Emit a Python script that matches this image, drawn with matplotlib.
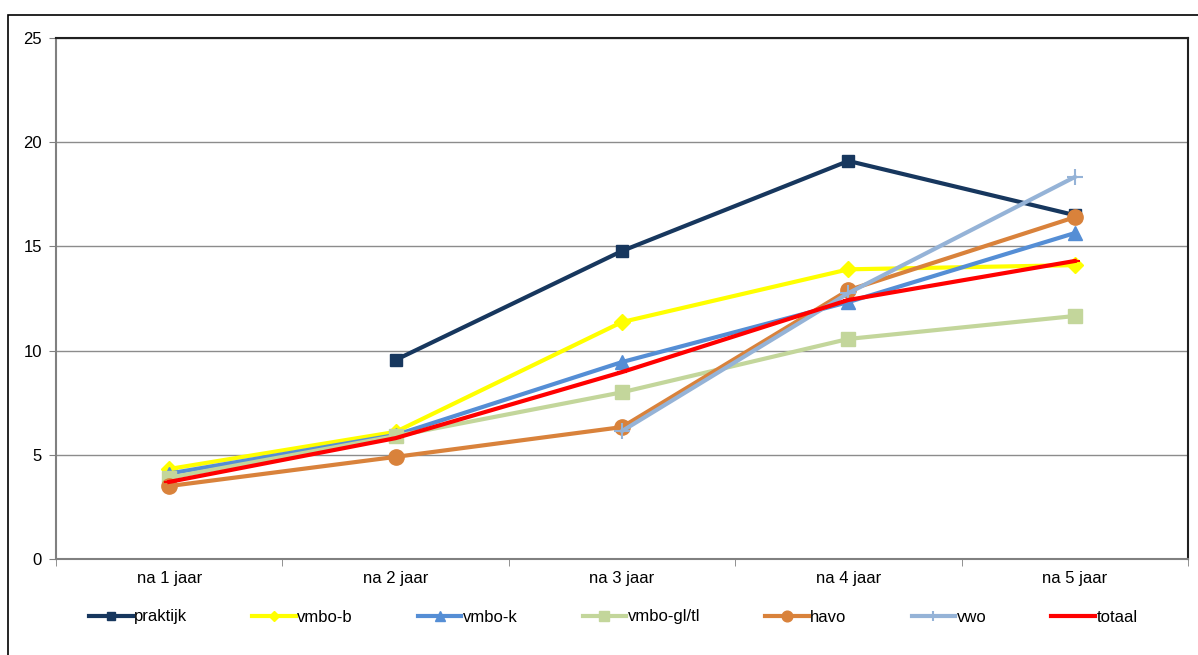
# line chart: share per schooltype after n years

import numpy as np
import matplotlib.pyplot as plt
from matplotlib.patches import Rectangle

plt.rcParams['font.family'] = ['Liberation Sans', 'DejaVu Sans']

# data
categories = ['na 1 jaar', 'na 2 jaar', 'na 3 jaar', 'na 4 jaar', 'na 5 jaar']
praktijk = [np.nan, 9.55, 14.78, 19.1, 16.5]
vmbo_b = [4.32, 6.1, 11.37, 13.9, 14.1]
vmbo_k = [4.1, 5.95, 9.45, 12.33, 15.64]
vmbo_gltl = [3.9, 5.9, 8.0, 10.56, 11.66]
havo = [3.5, 4.9, 6.33, 12.9, 16.4]
vwo = [np.nan, np.nan, 6.14, 12.76, 18.33]
totaal = [3.7, 5.8, 8.97, 12.43, 14.3]

series = [
    ('praktijk', praktijk, '#17375E', 's', 9),
    ('vmbo-b', vmbo_b, '#FFFF00', 'D', 8),
    ('vmbo-k', vmbo_k, '#558ED5', '^', 10),
    ('vmbo-gl/tl', vmbo_gltl, '#C3D69B', 's', 10),
    ('havo', havo, '#D9823B', 'o', 11),
    ('vwo', vwo, '#95B3D7', '+', 11),
    ('totaal', totaal, '#FF0000', '_', 7),
]

fig = plt.figure(figsize=(11.98, 6.55), dpi=100)
ax = fig.add_axes([56/1198, 1-559/655, (1188-56)/1198, (559-38)/655])

x = np.arange(len(categories))
for name, vals, c, m, ms in series:
    mew = 1.5 if m in ['+', '_'] else 1
    ax.plot(x, vals, color=c, lw=3, marker=m, markersize=ms,
            markeredgecolor=c, markerfacecolor=c, markeredgewidth=mew, label=name)

ax.set_xlim(-0.5, len(categories)-0.5)
ax.set_ylim(0, 25)
ax.set_yticks([0, 5, 10, 15, 20, 25])
ax.set_xticks(x)
ax.set_xticklabels(categories)
ax.set_xticks(np.arange(-0.5, len(categories)), minor=True)
ax.tick_params(axis='x', which='major', length=0, pad=9, labelsize=12)
ax.tick_params(axis='x', which='minor', length=5, color='#808080', direction='out')
ax.tick_params(axis='y', length=5, color='#808080', labelsize=12, pad=5)
ax.yaxis.grid(True, color='#8c8c8c', lw=1)
ax.set_axisbelow(True)

for s in ['left', 'bottom']:
    ax.spines[s].set_color('#808080')
    ax.spines[s].set_linewidth(1.5)
for s in ['top', 'right']:
    ax.spines[s].set_color('#202020')
    ax.spines[s].set_linewidth(1.5)

# outer chart frame
fig.patches.append(Rectangle((8/1198, -0.1), 1.2, 1-15/655+0.1, transform=fig.transFigure,
                             fill=False, edgecolor='black', lw=1.2))

fig.legend(loc='center', bbox_to_anchor=(0.512, 1-617/655), ncol=7, frameon=False,
           fontsize=12, handlelength=2.6, handletextpad=0.1, columnspacing=3.9,
           markerscale=0.7)

fig.savefig('out.png', dpi=100)
